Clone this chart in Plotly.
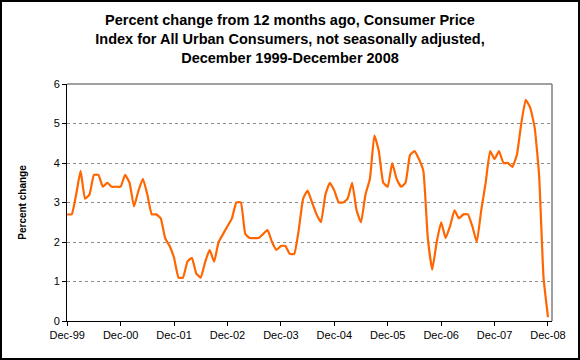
import plotly.graph_objects as go

tick_labels = ["Dec-99", "Dec-00", "Dec-01", "Dec-02", "Dec-03", "Dec-04",
               "Dec-05", "Dec-06", "Dec-07", "Dec-08"]

# Monthly 12-month percent change, Dec 1999 .. Dec 2008
y1999 = [2.7]
y2000 = [2.7, 3.2, 3.8, 3.1, 3.2, 3.7, 3.7, 3.4, 3.5, 3.4, 3.4, 3.4]
y2001 = [3.7, 3.5, 2.9, 3.3, 3.6, 3.2, 2.7, 2.7, 2.6, 2.1, 1.9, 1.6]
y2002 = [1.1, 1.1, 1.5, 1.6, 1.2, 1.1, 1.5, 1.8, 1.5, 2.0, 2.2, 2.4]
y2003 = [2.6, 3.0, 3.0, 2.2, 2.1, 2.1, 2.1, 2.2, 2.3, 2.0, 1.8, 1.9]
y2004 = [1.9, 1.7, 1.7, 2.3, 3.1, 3.3, 3.0, 2.7, 2.5, 3.2, 3.5, 3.3]
y2005 = [3.0, 3.0, 3.1, 3.5, 2.8, 2.5, 3.2, 3.6, 4.7, 4.3, 3.5, 3.4]
y2006 = [4.0, 3.6, 3.4, 3.5, 4.2, 4.3, 4.1, 3.8, 2.1, 1.3, 2.0, 2.5]
y2007 = [2.1, 2.4, 2.8, 2.6, 2.7, 2.7, 2.4, 2.0, 2.8, 3.5, 4.3, 4.1]
y2008 = [4.3, 4.0, 4.0, 3.9, 4.2, 5.0, 5.6, 5.4, 4.9, 3.7, 1.1, 0.1]

values = y1999 + y2000 + y2001 + y2002 + y2003 + y2004 + y2005 + y2006 + y2007 + y2008
months = list(range(len(values)))
tick_pos = [12 * i for i in range(len(tick_labels))]

W, H = 580, 360
L, R, T, B = 67, 28, 84, 39
pw, ph = W - L - R, H - T - B

fig = go.Figure()
fig.add_trace(go.Scatter(
    x=months, y=values, mode="lines",
    line=dict(color="#FF6600", width=2.2, shape="spline", smoothing=0.4),
    hoverinfo="skip", showlegend=False,
))

fig.update_layout(
    width=W, height=H,
    margin=dict(l=L, r=R, t=T, b=B, pad=0),
    paper_bgcolor="white", plot_bgcolor="white",
    font=dict(family="Liberation Sans, Arial, sans-serif", size=11, color="black"),
    title=dict(
        text="<b>Percent change from 12 months ago, Consumer Price<br>"
             "Index for All Urban Consumers, not seasonally adjusted,<br>"
             "December 1999-December 2008</b>",
        x=0.5, xanchor="center", y=0.93, yanchor="top",
        font=dict(size=14.5, color="black"),
    ),
    xaxis=dict(
        range=[-0.05, 108.9], tickmode="array", tickvals=tick_pos, ticktext=tick_labels,
        showgrid=False, zeroline=False, showline=True, linecolor="black", linewidth=1,
        ticks="outside", ticklen=4, tickcolor="black", tickfont=dict(size=11),
        fixedrange=True,
    ),
    yaxis=dict(
        range=[0, 6], dtick=1, tick0=0,
        showgrid=True, gridcolor="#8c8c8c", griddash="3px,3px", gridwidth=1,
        zeroline=False, showline=True, linecolor="black", linewidth=1,
        ticks="outside", ticklen=4, tickcolor="black", tickfont=dict(size=11),
        title=dict(text="<b>Percent change</b>", font=dict(size=10), standoff=25),
        fixedrange=True,
    ),
    shapes=[
        # gray frame on top and right of plot area
        dict(type="line", xref="paper", yref="paper", x0=0, x1=1, y0=1, y1=1,
             line=dict(color="#808080", width=1.5)),
        dict(type="line", xref="paper", yref="paper", x0=1, x1=1, y0=0, y1=1,
             line=dict(color="#808080", width=1.5)),
        # outer black border of the chart
        dict(type="rect", xref="paper", yref="paper",
             x0=(-L + 1) / pw, x1=1 + (R - 1) / pw,
             y0=(-B + 1) / ph, y1=1 + (T - 1) / ph,
             line=dict(color="black", width=2)),
    ],
)

fig.write_html("out.html", config={"displayModeBar": False},
               post_script="document.body.style.margin='0px';")
